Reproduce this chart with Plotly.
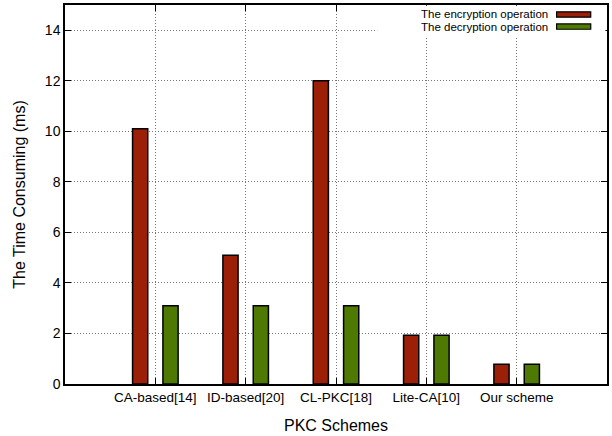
import plotly.graph_objects as go

# Measured time cost per public-key cryptosystem scheme (ms)
schemes = ["CA-based[14]", "ID-based[20]", "CL-PKC[18]", "Lite-CA[10]", "Our scheme"]
encryption_ms = [10.1, 5.1, 12.0, 1.93, 0.78]
decryption_ms = [3.1, 3.1, 3.1, 1.93, 0.78]
y_ticks = [0, 2, 4, 6, 8, 10, 12, 14]

enc_color = "#9C1F07"
dec_color = "#4E7A04"
font = "Liberation Sans, Arial, Helvetica, sans-serif"

x_pos = list(range(len(schemes)))
bar_w = 0.168

fig = go.Figure()
fig.add_trace(go.Bar(
    x=x_pos, y=encryption_ms, name="The encryption operation",
    width=bar_w, offset=-bar_w * 1.5,
    marker=dict(color=enc_color, line=dict(color="black", width=1.5)),
))
fig.add_trace(go.Bar(
    x=x_pos, y=decryption_ms, name="The decryption operation",
    width=bar_w, offset=bar_w * 0.5,
    marker=dict(color=dec_color, line=dict(color="black", width=1.5)),
))

grid = dict(showgrid=True, gridcolor="#777777", gridwidth=1, griddash="1px,2px")

fig.update_layout(
    width=612, height=436,
    margin=dict(l=65, r=3, t=5, b=52),
    paper_bgcolor="white", plot_bgcolor="white",
    showlegend=False,
    font=dict(family=font, color="black"),
    xaxis=dict(
        range=[-1, len(schemes)],
        tickmode="array", tickvals=x_pos, ticktext=schemes,
        tickfont=dict(size=13.5),
        ticks="inside", ticklen=6, tickcolor="black",
        showline=True, linecolor="black", linewidth=1.5, mirror="ticks",
        title=dict(text="PKC Schemes", font=dict(size=16), standoff=16),
        zeroline=False, **grid,
    ),
    yaxis=dict(
        range=[0, 15],
        tickmode="array", tickvals=y_ticks,
        tickfont=dict(size=14),
        ticks="inside", ticklen=6, tickcolor="black",
        showline=True, linecolor="black", linewidth=1.5, mirror="ticks",
        title=dict(text="The Time Consuming (ms)", font=dict(size=16), standoff=15),
        zeroline=False, **grid,
    ),
)

# Key box in the upper-right corner: label text followed by a colour swatch
fig.add_shape(type="rect", xref="paper", yref="paper",
              x0=0.576, x1=0.997, y0=0.913, y1=0.998,
              fillcolor="white", line=dict(width=0), layer="above")
key = [("The encryption operation", enc_color, 0.975),
       ("The decryption operation", dec_color, 0.943)]
for label, color, yc in key:
    fig.add_annotation(xref="paper", yref="paper", x=0.894, y=yc,
                       text=label, showarrow=False, xanchor="right",
                       yanchor="middle", font=dict(size=11.5, family=font))
    fig.add_shape(type="rect", xref="paper", yref="paper",
                  x0=0.907, x1=0.97, y0=yc - 0.007, y1=yc + 0.007,
                  fillcolor=color, line=dict(color="black", width=1.2),
                  layer="above")

fig.write_html("out.html")
